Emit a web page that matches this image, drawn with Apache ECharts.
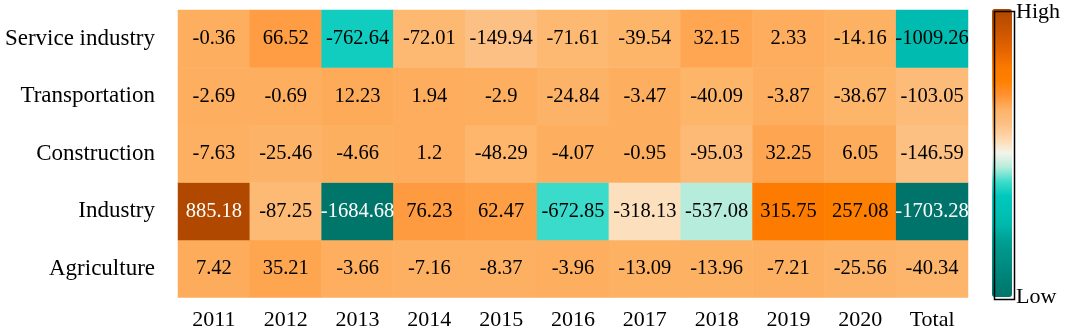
<!DOCTYPE html>
<html>
<head>
<meta charset="utf-8">
<script src="https://cdn.jsdelivr.net/npm/echarts@6/dist/echarts.min.js"></script>
<style>
  html, body { margin: 0; padding: 0; background: #fff; }
  #main { width: 1065px; height: 332px; }
</style>
</head>
<body>
<div id="main"></div>
<script>
// categories
var years = ['2011', '2012', '2013', '2014', '2015', '2016', '2017', '2018', '2019', '2020', 'Total'];
var sectors = ['Agriculture', 'Industry', 'Construction', 'Transportation', 'Service industry'];

// values per sector, one per year column
var agriculture = [7.42, 35.21, -3.66, -7.16, -8.37, -3.96, -13.09, -13.96, -7.21, -25.56, -40.34];
var industry = [885.18, -87.25, -1684.68, 76.23, 62.47, -672.85, -318.13, -537.08, 315.75, 257.08, -1703.28];
var construction = [-7.63, -25.46, -4.66, 1.2, -48.29, -4.07, -0.95, -95.03, 32.25, 6.05, -146.59];
var transportation = [-2.69, -0.69, 12.23, 1.94, -2.9, -24.84, -3.47, -40.09, -3.87, -38.67, -103.05];
var service = [-0.36, 66.52, -762.64, -72.01, -149.94, -71.61, -39.54, 32.15, 2.33, -14.16, -1009.26];

var rows = [agriculture, industry, construction, transportation, service];

// colour ramp, low -> high (21 even stops)
var ramp = ['#00746a', '#007f74', '#00897e', '#009488', '#00a094', '#00b8ac', '#00c2b6', '#00c8bc',
  '#3cdccb', '#b4ecdb', '#f4f4ea', '#ffd8ac', '#fdc084', '#fdb366', '#ff9232', '#ff8000',
  '#fa7800', '#e86600', '#d45a00', '#c05000', '#b04800'];

var data = [];
rows.forEach(function (row, y) {
  row.forEach(function (v, x) {
    data.push({
      value: [x, y, v],
      label: { color: (v > 800 || v < -1500) ? '#fff' : '#000' }
    });
  });
});

var myChart = echarts.init(document.getElementById('main'));
var font = '"Liberation Serif", "Times New Roman", serif';

var option = {
  animation: false,
  grid: { left: 178, right: 97, top: 10, bottom: 34.5 },
  xAxis: {
    type: 'category',
    data: years,
    axisLine: { show: false },
    axisTick: { show: false },
    splitArea: { show: false },
    axisLabel: { fontFamily: font, fontSize: 22, color: '#000', margin: 12 }
  },
  yAxis: {
    type: 'category',
    data: sectors,
    axisLine: { show: false },
    axisTick: { show: false },
    splitArea: { show: false },
    axisLabel: { fontFamily: font, fontSize: 23, color: '#000', margin: 23 }
  },
  visualMap: {
    type: 'continuous',
    min: -1703.28,
    max: 885.18,
    dimension: 2,
    calculable: false,
    hoverLink: false,
    orient: 'vertical',
    left: 992,
    top: 9,
    itemWidth: 20,
    itemHeight: 288,
    padding: 0,
    text: ['', ''],
    showLabel: false,
    inRange: { color: ramp }
  },
  graphic: [
    { type: 'rect', left: 992, top: 9, shape: { width: 20, height: 288 }, style: { fill: 'none', stroke: '#000', lineWidth: 1.5 }, z: 100 },
    { type: 'text', left: 1016, top: 1, style: { text: 'High', font: '22px ' + font, fill: '#000' } },
    { type: 'text', left: 1016, top: 286, style: { text: 'Low', font: '22px ' + font, fill: '#000' } }
  ],
  series: [{
    type: 'heatmap',
    data: data,
    label: {
      show: true,
      fontFamily: font,
      fontSize: 20.5,
      formatter: function (p) { return String(p.value[2]); }
    },
    emphasis: { disabled: true }
  }]
};
myChart.setOption(option);
</script>
</body>
</html>
